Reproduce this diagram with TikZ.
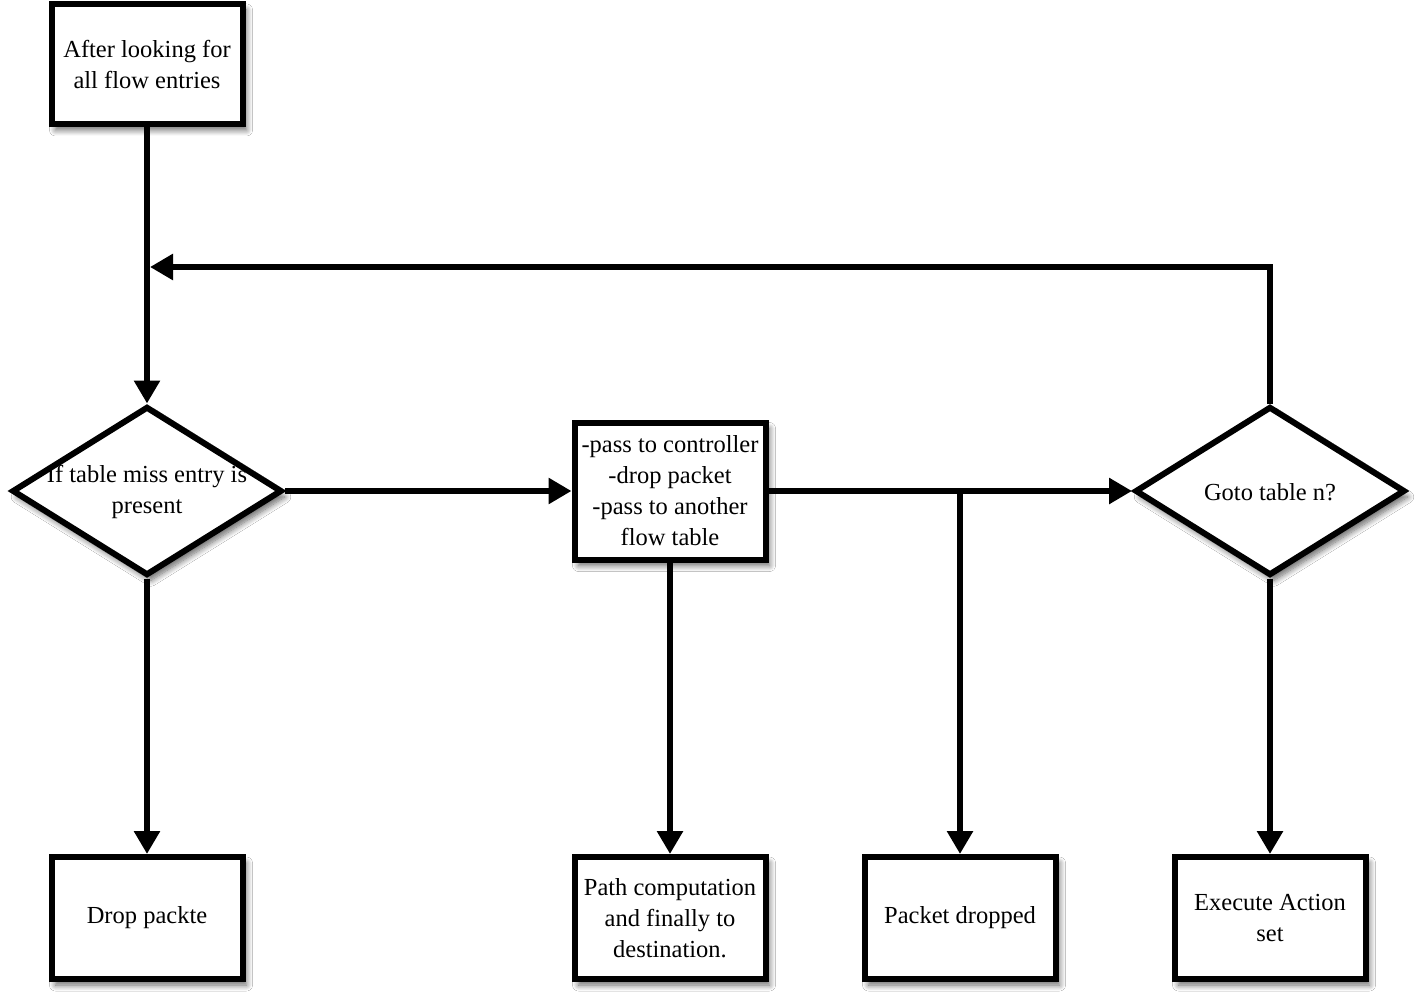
\documentclass[tikz,border=0pt]{standalone}
\usepackage{fontspec}
\setmainfont{Liberation Serif}
\usetikzlibrary{arrows.meta,shapes.geometric,shadows.blur}
\begin{document}
\begin{tikzpicture}[x=1pt,y=-1pt,
  font=\fontsize{24.5}{31}\selectfont,
  sh/.style={blur shadow={shadow xshift=4pt,shadow yshift=-6pt,shadow blur radius=6pt,shadow blur steps=10,shadow opacity=60}},
  box/.style={draw,line width=6pt,fill=white,sh,minimum width=191pt,align=center,inner sep=1pt},
  dia/.style={draw,line width=6pt,fill=white,sh,diamond,minimum width=270pt,minimum height=169pt,inner sep=0pt},
  txt/.style={align=center,inner sep=0pt},
  arr/.style={line width=6pt,-{Triangle[width=25pt,length=23pt]}}]
\useasboundingbox (0,0) rectangle (1418,1000);
\fill[white] (0,0) rectangle (1418,1000);
\node[box,minimum height=120pt] (a) at (147,64) {After looking for\\all flow entries};
\node[dia] (d1) at (147,491) {};
\node[txt] (d1t) at (147,492) {If table miss entry is\\present};
\node[box,minimum height=137pt] (b) at (670,491) {-pass to controller\\-drop packet\\-pass to another\\flow table};
\node[dia] (d2) at (1270,491) {};
\node[txt] (d2t) at (1270,492) {Goto table n?};
\node[box,minimum height=122pt] (e1) at (147,918) {Drop packte};
\node[box,minimum height=122pt] (e2) at (670,918) {Path computation\\and finally to\\destination.};
\node[box,minimum height=122pt] (e3) at (960,918) {Packet dropped};
\node[box,minimum height=122pt] (e4) at (1270,918) {Execute Action\\set};
\coordinate (j) at (e3.north |- b.east);
\coordinate (up) at (d2.north |- 0,267);
\coordinate (back) at (150,267);
\draw[arr] (a.south) -- (d1.north);
\draw[arr] (d1.east) -- (b.west);
\draw[arr] (b.east) -- (d2.west);
\draw[arr] (j) -- (e3.north);
\draw[arr] (d2.north) -- (up) -- (back);
\draw[arr] (d1.south) -- (e1.north);
\draw[arr] (b.south) -- (e2.north);
\draw[arr] (d2.south) -- (e4.north);
\end{tikzpicture}
\end{document}
